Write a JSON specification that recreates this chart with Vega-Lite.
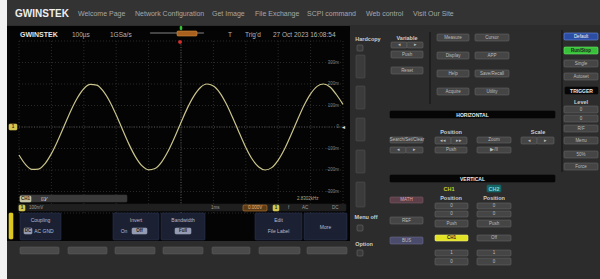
{
"$schema": "https://vega.github.io/schema/vega-lite/v6.json",
"width": 600, "height": 279, "autosize": "none", "padding": 0,
"background": "#2c2c2c",
"config": {"view": {"stroke": null}, "font": "Liberation Sans"},
"datasets": {
"base": [
{"x":0,"x2":7,"y":0,"y2":279,"k":"white"},
{"x":7,"x2":600,"y":0,"y2":25,"k":"nav"},
{"x":7,"x2":350,"y":26,"y2":241,"k":"black"}
],
"rects": [
{"x":18,"x2":346,"y":204,"y2":211,"k":"status"},
{"x":20,"x2":127,"y":195,"y2":202,"k":"dimbar"},
{"x":20,"x2":31,"y":196,"y2":202,"k":"badge"},
{"x":20,"x2":61,"y":213,"y2":240,"k":"menu"},
{"x":113,"x2":159,"y":213,"y2":240,"k":"menu"},
{"x":161,"x2":205,"y":213,"y2":240,"k":"menu"},
{"x":255,"x2":302,"y":213,"y2":240,"k":"menu"},
{"x":304,"x2":347,"y":213,"y2":240,"k":"menu"},
{"x":24,"x2":32,"y":228,"y2":234,"k":"hl"},
{"x":132,"x2":147,"y":228,"y2":234,"k":"hl"},
{"x":175,"x2":191,"y":228,"y2":234,"k":"hl"},
{"x":9,"x2":13,"y":213,"y2":239,"k":"ystrip"},
{"x":20,"x2":59,"y":247,"y2":254,"k":"soft"},
{"x":68,"x2":107,"y":247,"y2":254,"k":"soft"},
{"x":115,"x2":155,"y":247,"y2":254,"k":"soft"},
{"x":163,"x2":203,"y":247,"y2":254,"k":"soft"},
{"x":212,"x2":250,"y":247,"y2":254,"k":"soft"},
{"x":259,"x2":300,"y":247,"y2":254,"k":"soft"},
{"x":307,"x2":347,"y":247,"y2":254,"k":"soft"},
{"x":9,"x2":17,"y":124,"y2":130,"k":"ch1mark"},
{"x":19,"x2":25,"y":205,"y2":211,"k":"ch1mark"},
{"x":273,"x2":279,"y":205,"y2":211,"k":"ch1mark"},
{"x":243,"x2":267,"y":205,"y2":211,"k":"orgbox"},
{"x":150,"x2":204,"y":32.5,"y2":33.5,"k":"memb"},
{"x":177,"x2":197,"y":31,"y2":36,"k":"orange"},
{"x":180,"x2":182,"y":26,"y2":30,"k":"gtick"},
{"x":178.5,"x2":181.5,"y":40.5,"y2":43.5,"k":"rtick"},
{"x":356,"x2":365,"y":55,"y2":78,"k":"tall"},
{"x":356,"x2":365,"y":86,"y2":109,"k":"tall"},
{"x":356,"x2":365,"y":118,"y2":141,"k":"tall"},
{"x":356,"x2":365,"y":150,"y2":173,"k":"tall"},
{"x":356,"x2":365,"y":182,"y2":207,"k":"tall"},
{"x":357,"x2":363,"y":45,"y2":51,"k":"circ"},
{"x":357,"x2":363,"y":225,"y2":231,"k":"circ"},
{"x":357,"x2":363,"y":250,"y2":256,"k":"circ"},
{"x":391,"x2":407,"y":42,"y2":48,"k":"btn"},
{"x":407,"x2":423,"y":42,"y2":48,"k":"btn"},
{"x":391,"x2":423,"y":51,"y2":58,"k":"btn"},
{"x":391,"x2":423,"y":67,"y2":74,"k":"btn"},
{"x":429.5,"x2":430.5,"y":32,"y2":104,"k":"sep"},
{"x":561.5,"x2":562.5,"y":30,"y2":172,"k":"sep"},
{"x":437,"x2":469,"y":34,"y2":41,"k":"btn"},
{"x":475,"x2":509,"y":34,"y2":41,"k":"btn"},
{"x":437,"x2":469,"y":52,"y2":59,"k":"btn"},
{"x":475,"x2":509,"y":52,"y2":59,"k":"btn"},
{"x":437,"x2":469,"y":70,"y2":77,"k":"btn"},
{"x":475,"x2":509,"y":70,"y2":77,"k":"btn"},
{"x":437,"x2":469,"y":88,"y2":95,"k":"btn"},
{"x":475,"x2":509,"y":88,"y2":95,"k":"btn"},
{"x":564,"x2":598,"y":33,"y2":40,"k":"blue"},
{"x":564,"x2":598,"y":47,"y2":54,"k":"green"},
{"x":564,"x2":598,"y":60,"y2":67,"k":"btn"},
{"x":564,"x2":598,"y":73,"y2":80,"k":"btn"},
{"x":565,"x2":598,"y":87,"y2":94,"k":"bar"},
{"x":564,"x2":598,"y":106,"y2":113,"k":"btn"},
{"x":564,"x2":598,"y":115,"y2":122,"k":"btn"},
{"x":564,"x2":598,"y":125,"y2":132,"k":"btn"},
{"x":564,"x2":598,"y":137,"y2":144,"k":"btn"},
{"x":564,"x2":598,"y":151,"y2":158,"k":"btn"},
{"x":564,"x2":598,"y":163,"y2":170,"k":"btn"},
{"x":390,"x2":555,"y":111,"y2":118,"k":"bar"},
{"x":390,"x2":423,"y":137,"y2":143,"k":"btn"},
{"x":390,"x2":406,"y":147,"y2":153,"k":"btn"},
{"x":406,"x2":423,"y":147,"y2":153,"k":"btn"},
{"x":435,"x2":451,"y":137,"y2":144,"k":"btn"},
{"x":451,"x2":467,"y":137,"y2":144,"k":"btn"},
{"x":435,"x2":467,"y":147,"y2":153,"k":"btn"},
{"x":477,"x2":511,"y":137,"y2":143,"k":"btn"},
{"x":477,"x2":511,"y":147,"y2":153,"k":"btn"},
{"x":521,"x2":537,"y":137,"y2":144,"k":"btn"},
{"x":537,"x2":554,"y":137,"y2":144,"k":"btn"},
{"x":390,"x2":555,"y":175,"y2":182,"k":"bar"},
{"x":487,"x2":501,"y":185,"y2":192,"k":"ch2box"},
{"x":390,"x2":423,"y":197,"y2":203,"k":"math"},
{"x":390,"x2":423,"y":217,"y2":224,"k":"btn"},
{"x":390,"x2":423,"y":237,"y2":244,"k":"bus"},
{"x":435,"x2":468,"y":203,"y2":209,"k":"btn"},
{"x":435,"x2":468,"y":211,"y2":217,"k":"btn"},
{"x":435,"x2":468,"y":220,"y2":227,"k":"btn"},
{"x":435,"x2":468,"y":235,"y2":241,"k":"ch1btn"},
{"x":435,"x2":468,"y":250,"y2":256,"k":"btn"},
{"x":435,"x2":468,"y":258,"y2":265,"k":"btn"},
{"x":477,"x2":511,"y":203,"y2":209,"k":"btn"},
{"x":477,"x2":511,"y":211,"y2":217,"k":"btn"},
{"x":477,"x2":511,"y":220,"y2":227,"k":"btn"},
{"x":477,"x2":511,"y":235,"y2":241,"k":"btn"},
{"x":477,"x2":511,"y":250,"y2":256,"k":"btn"},
{"x":477,"x2":511,"y":258,"y2":265,"k":"btn"}
],
"texts": [
{"g":"logo","x":15,"y":14,"t":"GWINSTEK"},
{"g":"nav","x":78,"y":14,"t":"Welcome Page"},
{"g":"nav","x":135,"y":14,"t":"Network Configuration"},
{"g":"nav","x":212,"y":14,"t":"Get Image"},
{"g":"nav","x":255,"y":14,"t":"File Exchange"},
{"g":"nav","x":307,"y":14,"t":"SCPI command"},
{"g":"nav","x":366,"y":14,"t":"Web control"},
{"g":"nav","x":413,"y":14,"t":"Visit Our Site"},
{"g":"slogo","x":20,"y":35,"t":"GWINSTEK"},
{"g":"hdr","x":72,"y":35,"t":"100µs"},
{"g":"hdr","x":110,"y":35,"t":"1GSa/s"},
{"g":"hdr","x":228,"y":35,"t":"T"},
{"g":"hdr","x":245,"y":35,"t":"Trig'd"},
{"g":"hdr","x":273,"y":35,"t":"27 Oct 2023 16:08:54"},
{"g":"lbl","x":368,"y":38.5,"t":"Hardcopy"},
{"g":"lbl","x":407,"y":38,"t":"Variable"},
{"g":"lbl","x":366,"y":217,"t":"Menu off"},
{"g":"lbl","x":364,"y":243.5,"t":"Option"},
{"g":"lbl","x":451,"y":131.5,"t":"Position"},
{"g":"lbl","x":538,"y":131.5,"t":"Scale"},
{"g":"lbl","x":581,"y":101.5,"t":"Level"},
{"g":"lbl","x":451,"y":197.5,"t":"Position"},
{"g":"lbl","x":494,"y":197.5,"t":"Position"},
{"g":"bar","x":472.5,"y":114.5,"t":"HORIZONTAL"},
{"g":"bar","x":472.5,"y":178.5,"t":"VERTICAL"},
{"g":"bar","x":581.5,"y":90.5,"t":"TRIGGER"},
{"g":"btn","x":399,"y":45,"t":"◂"},
{"g":"btn","x":415,"y":45,"t":"▸"},
{"g":"btn","x":407,"y":54.5,"t":"Push"},
{"g":"btn","x":407,"y":70.5,"t":"Reset"},
{"g":"btn","x":453,"y":37.5,"t":"Measure"},
{"g":"btn","x":492,"y":37.5,"t":"Cursor"},
{"g":"btn","x":453,"y":55.5,"t":"Display"},
{"g":"btn","x":492,"y":55.5,"t":"APP"},
{"g":"btn","x":453,"y":73.5,"t":"Help"},
{"g":"btn","x":492,"y":73.5,"t":"Save/Recall"},
{"g":"btn","x":453,"y":91.5,"t":"Acquire"},
{"g":"btn","x":492,"y":91.5,"t":"Utility"},
{"g":"btn","x":581,"y":63.5,"t":"Single"},
{"g":"btn","x":581,"y":76.5,"t":"Autoset"},
{"g":"btn","x":581,"y":109.5,"t":"0"},
{"g":"btn","x":581,"y":118.5,"t":"0"},
{"g":"btn","x":581,"y":128.5,"t":"R/F"},
{"g":"btn","x":581,"y":140.5,"t":"Menu"},
{"g":"btn","x":581,"y":154.5,"t":"50%"},
{"g":"btn","x":581,"y":166.5,"t":"Force"},
{"g":"btn","x":407,"y":140,"t":"Search/Set/Clear"},
{"g":"btn","x":398,"y":150,"t":"◂"},
{"g":"btn","x":414.5,"y":150,"t":"▸"},
{"g":"btn","x":443,"y":140.5,"t":"◂◂"},
{"g":"btn","x":459,"y":140.5,"t":"▸▸"},
{"g":"btn","x":451,"y":150,"t":"Push"},
{"g":"btn","x":494,"y":140,"t":"Zoom"},
{"g":"btn","x":494,"y":150,"t":"▶/II"},
{"g":"btn","x":529,"y":140.5,"t":"◂"},
{"g":"btn","x":545.5,"y":140.5,"t":"▸"},
{"g":"btn","x":406.5,"y":220.5,"t":"REF"},
{"g":"btn","x":406.5,"y":240.5,"t":"BUS"},
{"g":"btn","x":451.5,"y":206,"t":"0"},
{"g":"btn","x":451.5,"y":214,"t":"0"},
{"g":"btn","x":451.5,"y":223.5,"t":"Push"},
{"g":"btn","x":451.5,"y":253,"t":"1"},
{"g":"btn","x":451.5,"y":261.5,"t":"0"},
{"g":"btn","x":494,"y":206,"t":"0"},
{"g":"btn","x":494,"y":214,"t":"0"},
{"g":"btn","x":494,"y":223.5,"t":"Push"},
{"g":"btn","x":494,"y":238,"t":"Off"},
{"g":"btn","x":494,"y":253,"t":"1"},
{"g":"btn","x":494,"y":261.5,"t":"0"},
{"g":"btnw","x":581,"y":36.5,"t":"Default"},
{"g":"dark","x":581,"y":50.5,"t":"Run/Stop"},
{"g":"dark","x":451.5,"y":238,"t":"CH1"},
{"g":"dark","x":25.5,"y":199,"t":"CH1"},
{"g":"dark","x":28,"y":231,"t":"DC"},
{"g":"dark","x":139.5,"y":231,"t":"Off"},
{"g":"dark","x":183,"y":231,"t":"Full"},
{"g":"dark","x":13,"y":127,"t":"1"},
{"g":"dark","x":22,"y":208,"t":"1"},
{"g":"dark","x":276,"y":208,"t":"1"},
{"g":"math","x":406.5,"y":200,"t":"MATH"},
{"g":"ch1t","x":449,"y":188.5,"t":"CH1"},
{"g":"ch2t","x":494,"y":188.5,"t":"CH2"},
{"g":"menu","x":40.5,"y":220,"t":"Coupling"},
{"g":"menu","x":44,"y":231,"t":"AC GND"},
{"g":"menu","x":136,"y":220,"t":"Invert"},
{"g":"menu","x":124,"y":231,"t":"On"},
{"g":"menu","x":183,"y":220,"t":"Bandwidth"},
{"g":"menu","x":278.5,"y":220,"t":"Edit"},
{"g":"menu","x":278.5,"y":231,"t":"File Label"},
{"g":"menu","x":325.5,"y":226.5,"t":"More"},
{"g":"stat","x":29,"y":208,"t":"100mV"},
{"g":"stat","x":211,"y":208,"t":"1ms"},
{"g":"stat","x":288,"y":208,"t":"f"},
{"g":"stat","x":302,"y":208,"t":"AC"},
{"g":"stat","x":332,"y":208,"t":"DC"},
{"g":"freq","x":297,"y":199,"t":"2.8302kHz"},
{"g":"org","x":255,"y":208,"t":"0.000V"},
{"g":"wmark","x":343,"y":127,"t":"◂"},
{"g":"wmark","x":44,"y":199,"t":"⊡∕"}
],
"gx": [{"t":-500},{"t":-400},{"t":-300},{"t":-200},{"t":-100},{"t":0},{"t":100},{"t":200},{"t":300},{"t":400},{"t":500}],
"gy": [{"v":-400},{"v":-300},{"v":-200},{"v":-100},{"v":0},{"v":100},{"v":200},{"v":300},{"v":400}],
"ylab": [{"v":300,"s":"300m"},{"v":200,"s":"200m"},{"v":100,"s":"100m"},{"v":0,"s":"0"},{"v":-100,"s":"-100m"},{"v":-200,"s":"-200m"},{"v":-300,"s":"-300m"}],
"wave": [
{"t":-500,"v":-130},{"t":-480,"v":-174},{"t":-460,"v":-197},{"t":-440,"v":-196},{"t":-420,"v":-171},
{"t":-400,"v":-124},{"t":-380,"v":-62},{"t":-360,"v":7},{"t":-340,"v":76},{"t":-320,"v":135},
{"t":-300,"v":178},{"t":-280,"v":198},{"t":-260,"v":195},{"t":-240,"v":167},{"t":-220,"v":119},
{"t":-200,"v":56},{"t":-180,"v":-14},{"t":-160,"v":-82},{"t":-140,"v":-140},{"t":-120,"v":-181},
{"t":-100,"v":-199},{"t":-80,"v":-193},{"t":-60,"v":-163},{"t":-40,"v":-113},{"t":-20,"v":-49},
{"t":0,"v":21},{"t":20,"v":89},{"t":40,"v":145},{"t":60,"v":184},{"t":80,"v":200},
{"t":100,"v":191},{"t":120,"v":159},{"t":140,"v":107},{"t":160,"v":42},{"t":180,"v":-28},
{"t":200,"v":-95},{"t":220,"v":-150},{"t":240,"v":-186},{"t":260,"v":-200},{"t":280,"v":-189},
{"t":300,"v":-154},{"t":320,"v":-101},{"t":340,"v":-35},{"t":360,"v":35},{"t":380,"v":101},
{"t":400,"v":154},{"t":420,"v":189},{"t":440,"v":200},{"t":460,"v":186},{"t":480,"v":150},
{"t":500,"v":105}
]
},
"layer": [
{
"data": {"name": "base"},
"mark": {"type": "rect"},
"encoding": {
"x": {"field": "x", "type": "quantitative", "scale": {"domain": [0, 600], "nice": false, "zero": false}, "axis": null},
"x2": {"field": "x2"},
"y": {"field": "y", "type": "quantitative", "scale": {"domain": [0, 279], "nice": false, "zero": false, "reverse": true}, "axis": null},
"y2": {"field": "y2"},
"color": {"field": "k", "type": "nominal", "legend": null, "scale": {"domain": ["white", "nav", "black"], "range": ["#f2f2f2", "#333333", "#040404"]}}
}
},
{
"layer": [
{
"data": {"name": "gx"},
"mark": {"type": "rule", "color": "#333333", "strokeDash": [1, 2], "strokeWidth": 0.8},
"encoding": {
"x": {"field": "t", "type": "quantitative", "scale": {"domain": [-500, 500], "range": [19, 343], "nice": false, "zero": false}, "axis": null},
"y": {"datum": -400, "type": "quantitative", "scale": {"domain": [-400, 400], "range": [213, 41], "nice": false, "zero": false}, "axis": null},
"y2": {"datum": 400}
}
},
{
"data": {"name": "gy"},
"mark": {"type": "rule", "color": "#333333", "strokeDash": [1, 2], "strokeWidth": 0.8},
"encoding": {
"y": {"field": "v", "type": "quantitative", "scale": {"domain": [-400, 400], "range": [213, 41], "nice": false, "zero": false}, "axis": null},
"x": {"datum": -500, "type": "quantitative", "scale": {"domain": [-500, 500], "range": [19, 343], "nice": false, "zero": false}, "axis": null},
"x2": {"datum": 500}
}
},
{
"data": {"name": "gx"},
"transform": [{"filter": "datum.t == 0"}],
"mark": {"type": "rule", "color": "#505050", "strokeDash": [1, 1.5], "strokeWidth": 0.9},
"encoding": {
"x": {"field": "t", "type": "quantitative", "scale": {"domain": [-500, 500], "range": [19, 343], "nice": false, "zero": false}, "axis": null},
"y": {"datum": -400, "type": "quantitative", "scale": {"domain": [-400, 400], "range": [213, 41], "nice": false, "zero": false}, "axis": null},
"y2": {"datum": 400}
}
},
{
"data": {"name": "gy"},
"transform": [{"filter": "datum.v == 0"}],
"mark": {"type": "rule", "color": "#505050", "strokeDash": [1, 1.5], "strokeWidth": 0.9},
"encoding": {
"y": {"field": "v", "type": "quantitative", "scale": {"domain": [-400, 400], "range": [213, 41], "nice": false, "zero": false}, "axis": null},
"x": {"datum": -500, "type": "quantitative", "scale": {"domain": [-500, 500], "range": [19, 343], "nice": false, "zero": false}, "axis": null},
"x2": {"datum": 500}
}
},
{
"data": {"name": "ylab"},
"mark": {"type": "text", "align": "right", "baseline": "middle", "fontSize": 4.5, "color": "#808080", "dx": -4},
"encoding": {
"y": {"field": "v", "type": "quantitative", "scale": {"domain": [-400, 400], "range": [213, 41], "nice": false, "zero": false}, "axis": null},
"x": {"datum": 500, "type": "quantitative", "scale": {"domain": [-500, 500], "range": [19, 343], "nice": false, "zero": false}, "axis": null},
"text": {"field": "s", "type": "nominal"}
}
},
{
"data": {"name": "wave"},
"mark": {"type": "line", "color": "#cbc58c", "strokeWidth": 1.2, "interpolate": "monotone"},
"encoding": {
"x": {"field": "t", "type": "quantitative", "scale": {"domain": [-500, 500], "range": [19, 343], "nice": false, "zero": false}, "axis": null},
"y": {"field": "v", "type": "quantitative", "scale": {"domain": [-400, 400], "range": [213, 41], "nice": false, "zero": false}, "axis": null}
}
}
]
},
{
"encoding": {
"x": {"field": "x", "type": "quantitative", "scale": {"domain": [0, 600], "nice": false, "zero": false}, "axis": null},
"y": {"field": "y", "type": "quantitative", "scale": {"domain": [0, 279], "nice": false, "zero": false, "reverse": true}, "axis": null}
},
"layer": [
{
"data": {"name": "rects"},
"mark": {"type": "rect", "strokeWidth": 0.6, "cornerRadius": 1},
"encoding": {
"x2": {"field": "x2"},
"y2": {"field": "y2"},
"color": {"field": "k", "type": "nominal", "legend": null, "scale": {
"domain": ["status","dimbar","badge","menu","hl","ystrip","soft","ch1mark","orange","memb","tall","circ","btn","sep","blue","green","bar","ch2box","math","bus","ch1btn","orgbox","gtick","rtick"],
"range": ["#1f1f1f","#3a3a3a","#c4c2a4","#1b2033","#959bb2","#dcc823","#4a4a4a","#d4c650","#a8601f","#555555","#3b3b3b","#3a3a3a","#454545","#1b1b1b","#2b4ea4","#38c03a","#060606","#156565","#5c3f49","#4b4b6b","#e2e226","#5c3c18","#3ac03a","#d03030"]}},
"stroke": {"field": "k", "type": "nominal", "legend": null, "scale": {
"domain": ["status","dimbar","badge","menu","hl","ystrip","soft","ch1mark","orange","memb","tall","circ","btn","sep","blue","green","bar","ch2box","math","bus","ch1btn","orgbox","gtick","rtick"],
"range": ["#1f1f1f","#3a3a3a","#c4c2a4","#2c3350","#959bb2","#dcc823","#5a5a5a","#d4c650","#d08a3a","#555555","#525252","#6a6a6a","#656565","#1b1b1b","#6f8ee2","#6ae86a","#060606","#156565","#7d5a66","#6d6d90","#f2f27a","#c07a30","#3ac03a","#d03030"]}}
}
},
{"data": {"name": "texts"}, "transform": [{"filter": "datum.g == 'logo'"}], "mark": {"type": "text", "fontSize": 10, "fontWeight": "bold", "color": "#eeeeee", "align": "left", "baseline": "middle"}, "encoding": {"text": {"field": "t", "type": "nominal"}}},
{"data": {"name": "texts"}, "transform": [{"filter": "datum.g == 'nav'"}], "mark": {"type": "text", "fontSize": 7, "color": "#a6a6a6", "align": "left", "baseline": "middle"}, "encoding": {"text": {"field": "t", "type": "nominal"}}},
{"data": {"name": "texts"}, "transform": [{"filter": "datum.g == 'slogo'"}], "mark": {"type": "text", "fontSize": 7, "fontWeight": "bold", "color": "#e4e4e4", "align": "left", "baseline": "middle"}, "encoding": {"text": {"field": "t", "type": "nominal"}}},
{"data": {"name": "texts"}, "transform": [{"filter": "datum.g == 'hdr'"}], "mark": {"type": "text", "fontSize": 6.5, "color": "#b4b4b4", "align": "left", "baseline": "middle"}, "encoding": {"text": {"field": "t", "type": "nominal"}}},
{"data": {"name": "texts"}, "transform": [{"filter": "datum.g == 'lbl'"}], "mark": {"type": "text", "fontSize": 5.5, "fontWeight": "bold", "color": "#cccccc", "align": "center", "baseline": "middle"}, "encoding": {"text": {"field": "t", "type": "nominal"}}},
{"data": {"name": "texts"}, "transform": [{"filter": "datum.g == 'bar'"}], "mark": {"type": "text", "fontSize": 5, "fontWeight": "bold", "color": "#e8e8e8", "align": "center", "baseline": "middle"}, "encoding": {"text": {"field": "t", "type": "nominal"}}},
{"data": {"name": "texts"}, "transform": [{"filter": "datum.g == 'btn'"}], "mark": {"type": "text", "fontSize": 4.5, "color": "#bcbcbc", "align": "center", "baseline": "middle"}, "encoding": {"text": {"field": "t", "type": "nominal"}}},
{"data": {"name": "texts"}, "transform": [{"filter": "datum.g == 'btnw'"}], "mark": {"type": "text", "fontSize": 4.5, "color": "#f4f4f4", "align": "center", "baseline": "middle"}, "encoding": {"text": {"field": "t", "type": "nominal"}}},
{"data": {"name": "texts"}, "transform": [{"filter": "datum.g == 'dark'"}], "mark": {"type": "text", "fontSize": 4.5, "fontWeight": "bold", "color": "#222222", "align": "center", "baseline": "middle"}, "encoding": {"text": {"field": "t", "type": "nominal"}}},
{"data": {"name": "texts"}, "transform": [{"filter": "datum.g == 'math'"}], "mark": {"type": "text", "fontSize": 4.5, "color": "#dca8b8", "align": "center", "baseline": "middle"}, "encoding": {"text": {"field": "t", "type": "nominal"}}},
{"data": {"name": "texts"}, "transform": [{"filter": "datum.g == 'ch1t'"}], "mark": {"type": "text", "fontSize": 5.5, "fontWeight": "bold", "color": "#cfcf28", "align": "center", "baseline": "middle"}, "encoding": {"text": {"field": "t", "type": "nominal"}}},
{"data": {"name": "texts"}, "transform": [{"filter": "datum.g == 'ch2t'"}], "mark": {"type": "text", "fontSize": 5.5, "fontWeight": "bold", "color": "#7fd8d8", "align": "center", "baseline": "middle"}, "encoding": {"text": {"field": "t", "type": "nominal"}}},
{"data": {"name": "texts"}, "transform": [{"filter": "datum.g == 'menu'"}], "mark": {"type": "text", "fontSize": 5, "color": "#b8bccc", "align": "center", "baseline": "middle"}, "encoding": {"text": {"field": "t", "type": "nominal"}}},
{"data": {"name": "texts"}, "transform": [{"filter": "datum.g == 'stat'"}], "mark": {"type": "text", "fontSize": 4.5, "color": "#9c9c9c", "align": "left", "baseline": "middle"}, "encoding": {"text": {"field": "t", "type": "nominal"}}},
{"data": {"name": "texts"}, "transform": [{"filter": "datum.g == 'freq'"}], "mark": {"type": "text", "fontSize": 4.5, "color": "#b0ac84", "align": "left", "baseline": "middle"}, "encoding": {"text": {"field": "t", "type": "nominal"}}},
{"data": {"name": "texts"}, "transform": [{"filter": "datum.g == 'org'"}], "mark": {"type": "text", "fontSize": 4.5, "color": "#e8b878", "align": "center", "baseline": "middle"}, "encoding": {"text": {"field": "t", "type": "nominal"}}},
{"data": {"name": "texts"}, "transform": [{"filter": "datum.g == 'wmark'"}], "mark": {"type": "text", "fontSize": 6, "color": "#e0e0e0", "align": "center", "baseline": "middle"}, "encoding": {"text": {"field": "t", "type": "nominal"}}}
]
}
],
"resolve": {"scale": {"x": "independent", "y": "independent", "color": "independent", "stroke": "independent"}}
}
